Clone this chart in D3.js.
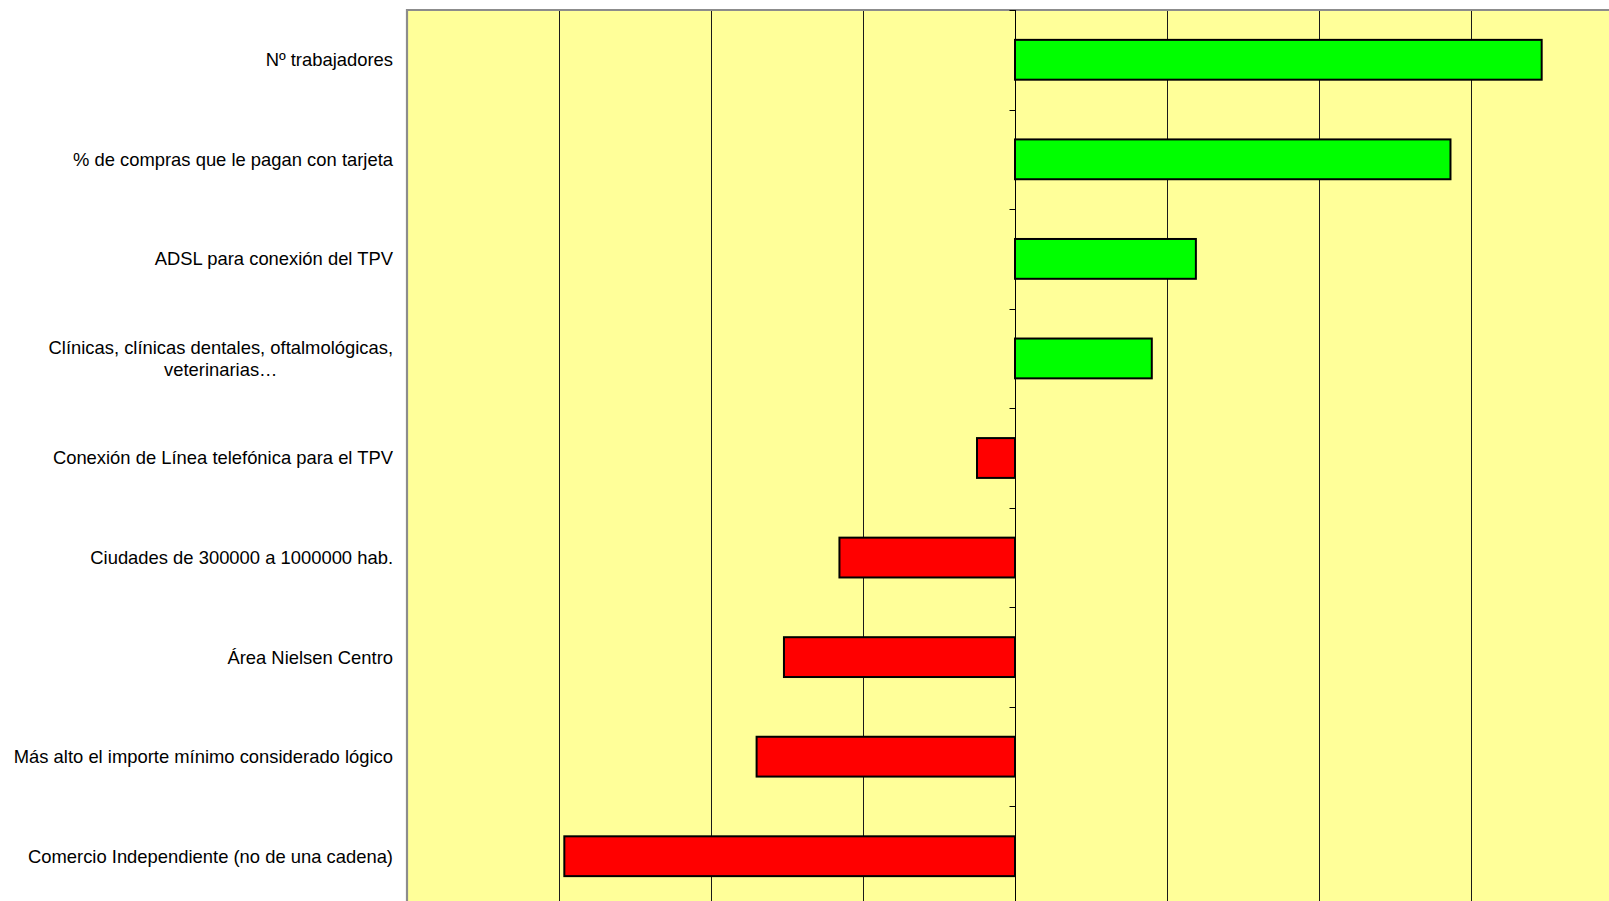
<!DOCTYPE html>
<html>
<head>
<meta charset="utf-8">
<script src="https://cdn.jsdelivr.net/npm/d3@7/dist/d3.min.js"></script>
<style>
  html, body { margin: 0; padding: 0; background: #ffffff; overflow: hidden; }
  svg { display: block; }
  text { font-family: "Liberation Sans", Arial, sans-serif; }
</style>
</head>
<body>
<svg id="chart" width="1609" height="901"></svg>
<script>
// Categories, top to bottom ("\n" separates lines of a wrapped label)
const categories = [
  "Nº trabajadores",
  "% de compras que le pagan con tarjeta",
  "ADSL para conexión del TPV",
  "Clínicas, clínicas dentales, oftalmológicas,\nveterinarias…",
  "Conexión de Línea telefónica para el TPV",
  "Ciudades de 300000 a 1000000 hab.",
  "Área Nielsen Centro",
  "Más alto el importe mínimo considerado lógico",
  "Comercio Independiente (no de una cadena)"
];

// Effect of each factor (positive = green, negative = red)
const values = [3.465, 2.865, 1.19, 0.90, -0.25, -1.155, -1.52, -1.70, -2.965];

// Value axis extent and gridline steps
const xDomain = [-4, 4];
const gridTicks = [-3, -2, -1, 1, 2, 3];

const svg = d3.select("#chart");

const plot = { left: 407, top: 10, right: 1623, bottom: 906 };

const x = d3.scaleLinear().domain(xDomain).range([plot.left, plot.right]);
const y = d3.scaleBand().domain(categories).range([plot.top, plot.bottom]).padding(0);

// Plot area
svg.append("rect")
  .attr("x", plot.left).attr("y", plot.top)
  .attr("width", plot.right - plot.left).attr("height", plot.bottom - plot.top)
  .attr("fill", "#FFFF99");

// Vertical gridlines
svg.append("g").selectAll("line").data(gridTicks).join("line")
  .attr("x1", d => Math.round(x(d)) + 0.5).attr("x2", d => Math.round(x(d)) + 0.5)
  .attr("y1", plot.top).attr("y2", plot.bottom)
  .attr("stroke", "#1a1a1a").attr("stroke-width", 1);

// Plot border (left and top visible)
svg.append("path")
  .attr("d", `M${plot.left},${plot.bottom}V${plot.top}H${plot.right}`)
  .attr("fill", "none").attr("stroke", "#8c8c8c").attr("stroke-width", 2.2);

// Bars
const barFrac = 0.4;
svg.append("g").selectAll("rect").data(categories).join("rect")
  .attr("x", (d, i) => x(Math.min(0, values[i])))
  .attr("y", d => y(d) + y.bandwidth() * (1 - barFrac) / 2)
  .attr("width", (d, i) => Math.abs(x(values[i]) - x(0)))
  .attr("height", y.bandwidth() * barFrac)
  .attr("fill", (d, i) => values[i] >= 0 ? "#00FF00" : "#FF0000")
  .attr("stroke", "#000").attr("stroke-width", 2);

// Category axis at zero, ticks on band boundaries
const zx = Math.round(x(0)) + 0.5;
const axis = svg.append("g");
axis.append("line")
  .attr("x1", zx).attr("x2", zx).attr("y1", plot.top).attr("y2", plot.bottom)
  .attr("stroke", "#000").attr("stroke-width", 1);
const bounds = categories.map(c => y(c)).concat([y.range()[1]]);
axis.selectAll("line.tick").data(bounds).join("line")
  .attr("class", "tick")
  .attr("x1", zx - 6).attr("x2", zx)
  .attr("y1", d => Math.round(d) + 0.5).attr("y2", d => Math.round(d) + 0.5)
  .attr("stroke", "#000").attr("stroke-width", 1);

// Category labels, right-aligned block, wrapped lines centred within it
const labelRight = 393;
const fontSize = 18.4;
const lineH = 22.6;
const labels = svg.append("g");
categories.forEach(c => {
  const lines = c.split("\n");
  const g = labels.append("g");
  const cy = y(c) + y.bandwidth() / 2;
  const texts = lines.map((ln, k) => g.append("text")
    .attr("font-size", fontSize)
    .attr("fill", "#000")
    .attr("dy", "0.35em")
    .attr("y", cy + (k - (lines.length - 1) / 2) * lineH)
    .text(ln));
  const widths = texts.map(t => t.node().getComputedTextLength());
  const maxW = d3.max(widths);
  texts.forEach(t => t.attr("x", labelRight - maxW / 2).attr("text-anchor", "middle"));
});
</script>
</body>
</html>
